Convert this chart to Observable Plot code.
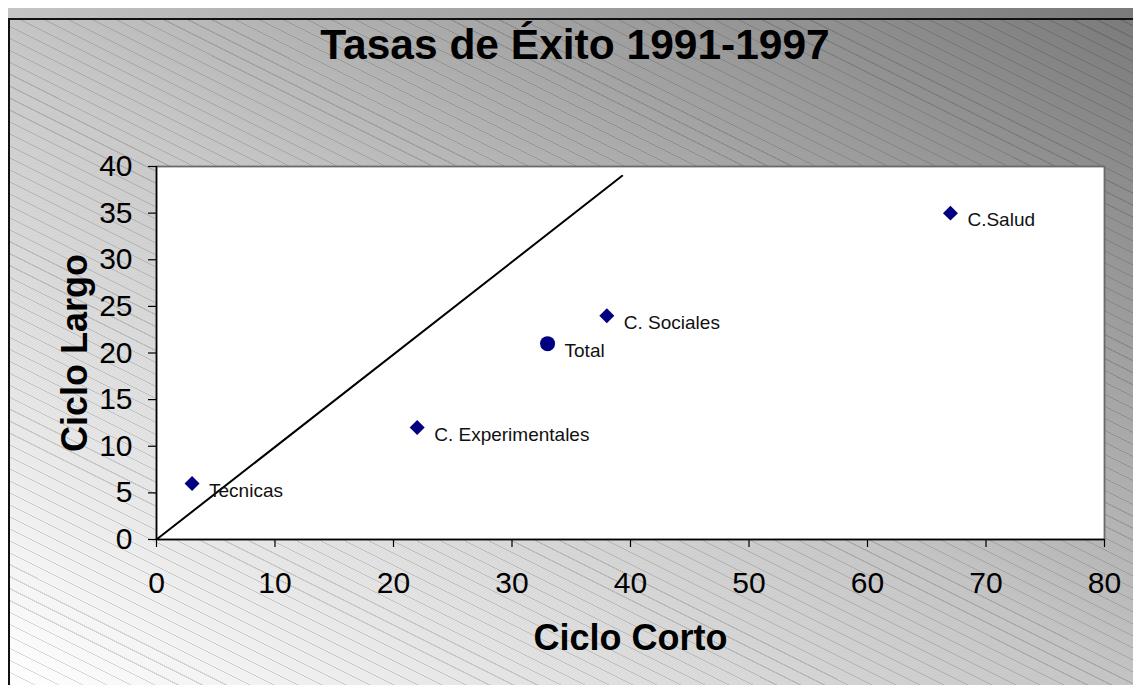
<!DOCTYPE html>
<html>
<head>
<meta charset="utf-8">
<script src="https://cdn.jsdelivr.net/npm/d3@7"></script>
<script src="https://cdn.jsdelivr.net/npm/@observablehq/plot@0.6"></script>
<style>
  html, body { margin: 0; padding: 0; background: #ffffff; }
  #chart { position: relative; width: 1133px; height: 685px; overflow: hidden; font-family: "Liberation Sans", Arial, sans-serif; }
  #bg { position: absolute; left: 8px; top: 8px; right: 0; bottom: 0;
        background: linear-gradient(to top right, #ffffff 0%, #c4c4c4 50%, #7a7a7a 100%); }
  #hatch { position: absolute; left: 8px; top: 18px; right: 0; bottom: 0;
        border-left: 2px solid #111; border-top: 2px solid #111;
        background: repeating-linear-gradient(26.57deg, rgba(0,0,0,0.14) 0px, rgba(0,0,0,0.14) 1px, rgba(0,0,0,0) 1px, rgba(0,0,0,0) 10.7px); }
  #title { position: absolute; left: 0; width: 1150px; top: 24px; text-align: center;
        font-size: 42.5px; line-height: 42px; font-weight: bold; color: #000; }
  #plot { position: absolute; left: 0; top: 85px; }
</style>
</head>
<body>
<div id="chart">
  <div id="bg"></div>
  <div id="hatch"></div>
  <div id="title">Tasas de Éxito 1991-1997</div>
  <div id="plot"></div>
</div>
<script>
const categories = ["Tecnicas", "C. Experimentales", "Total", "C. Sociales", "C.Salud"];
const cicloCorto = [3, 22, 33, 38, 67];
const cicloLargo = [6, 12, 21, 24, 35];
const isTotal = [false, false, true, false, false];
const diagX = [0, 39.3];
const diagY = [0, 39];
const xTicks = [0, 10, 20, 30, 40, 50, 60, 70, 80];
const yTicks = [0, 5, 10, 15, 20, 25, 30, 35, 40];
const xLabel = "Ciclo Corto";
const yLabel = "Ciclo Largo";

const points = categories.map((c, i) => ({name: c, x: cicloCorto[i], y: cicloLargo[i], total: isTotal[i]}));
const diag = diagX.map((x, i) => ({x, y: diagY[i]}));

const chart = Plot.plot({
  width: 1133,
  height: 600,
  marginLeft: 156,
  marginRight: 29,
  marginTop: 81,
  marginBottom: 146,
  style: {background: "transparent", fontFamily: "'Liberation Sans', Arial, sans-serif", fontSize: "30px", color: "#000", overflow: "visible"},
  x: {domain: [0, 80]},
  y: {domain: [0, 40]},
  marks: [
    Plot.frame({fill: "white", stroke: "#6a6a6a", strokeWidth: 1.8}),
    Plot.axisX({ticks: xTicks, tickSize: 8, tickPadding: 24, label: null, stroke: "#000", strokeWidth: 1.2, fontSize: 30}),
    Plot.axisY({ticks: yTicks, tickSize: 8, tickPadding: 16, label: null, stroke: "#000", strokeWidth: 1.2, fontSize: 30}),
    Plot.ruleX([0], {stroke: "#000", strokeWidth: 1.5}),
    Plot.ruleY([0], {stroke: "#000", strokeWidth: 1.5}),
    Plot.line(diag, {x: "x", y: "y", stroke: "#000", strokeWidth: 2}),
    Plot.dot(points.filter(d => !d.total), {x: "x", y: "y", symbol: "diamond2", r: 6.75, fill: "#000080", stroke: "none"}),
    Plot.dot(points.filter(d => d.total), {x: "x", y: "y", symbol: "circle", r: 7.5, fill: "#000080", stroke: "none"}),
    Plot.text(points, {x: "x", y: "y", text: "name", dx: 17, dy: 7, textAnchor: "start", fontSize: 19, fill: "#111"}),
    Plot.text([xLabel], {frameAnchor: "bottom", dy: 99, textAnchor: "middle", lineAnchor: "middle", fontSize: 36, fontWeight: "bold", fill: "#000"}),
    Plot.text([yLabel], {frameAnchor: "left", dx: -81, rotate: -90, textAnchor: "middle", lineAnchor: "middle", fontSize: 36, fontWeight: "bold", fill: "#000"})
  ]
});
document.getElementById("plot").appendChild(chart);
</script>
</body>
</html>
